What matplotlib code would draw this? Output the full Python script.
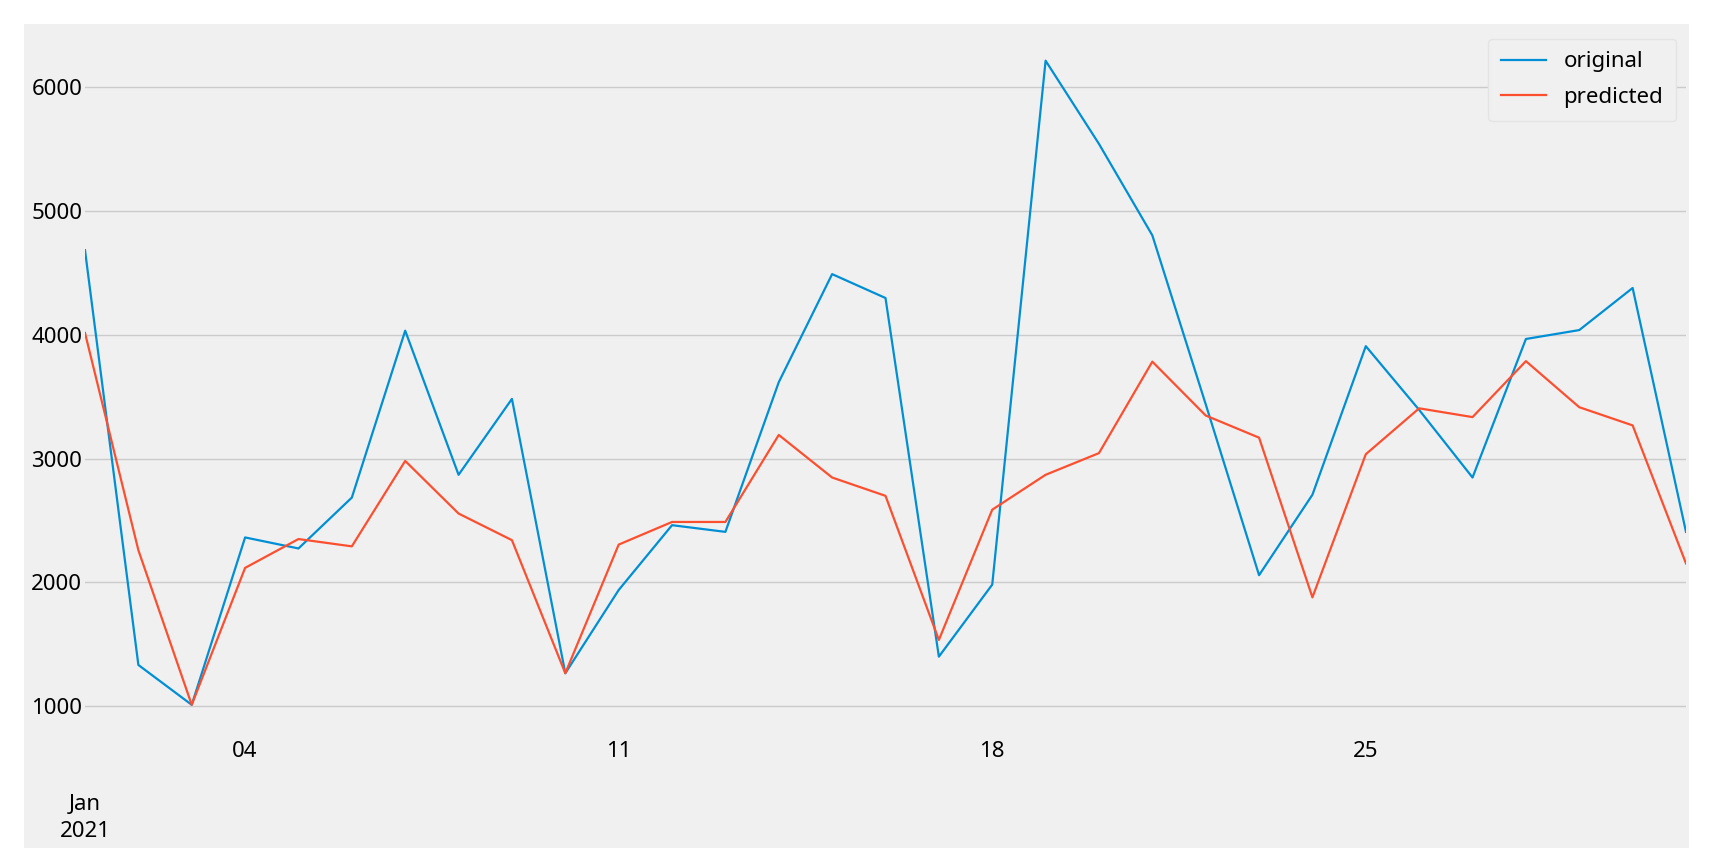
import numpy as np
import pandas as pd
import matplotlib
matplotlib.use('Agg')
import matplotlib.pyplot as plt
from matplotlib.patches import Rectangle

# daily values, Jan 2021
dates = pd.date_range('2021-01-01', '2021-01-31', freq='D')
original = [4684, 1334, 1012, 2364, 2275, 2686, 4034, 2870, 3483, 1267,
            1939, 2463, 2409, 3618, 4491, 4298, 1401, 1983, 6215, 5543,
            4804, 3440, 2059, 2709, 3909, 3394, 2848, 3967, 4039, 4379, 2409]
predicted = [4016, 2261, 1012, 2118, 2351, 2292, 2982, 2557, 2342, 1267,
             2306, 2489, 2489, 3192, 2848, 2700, 1536, 2588, 2870, 3045,
             3784, 3349, 3170, 1880, 3036, 3407, 3336, 3788, 3416, 3269, 2154]
tick_days = ['2021-01-01', '2021-01-04', '2021-01-11', '2021-01-18', '2021-01-25']
tick_labels = ['\n\nJan\n2021', '04', '11', '18', '25']

plt.rcParams['font.family'] = ['Noto Sans', 'DejaVu Sans']

W, H = 1711, 868
fig = plt.figure(figsize=(W / 100, H / 100), dpi=100, facecolor='white')
# grey panel behind axes and labels
fig.patches.append(Rectangle((24 / W, 1 - 848 / H), 1665 / W, 824 / H,
                             transform=fig.transFigure, facecolor='#f0f0f0',
                             edgecolor='none', zorder=-10))
ax = fig.add_axes([85 / W, 1 - 737 / H, (1686 - 85) / W, (737 - 28.5) / H])
ax.set_facecolor('#f0f0f0')

ax.plot(dates, original, color='#008fd5', lw=1.6, label='original')
ax.plot(dates, predicted, color='#fc4f30', lw=1.6, label='predicted')

ax.set_xlim(dates[0], dates[-1])
ax.set_ylim(752, 6475)
ax.set_yticks([1000, 2000, 3000, 4000, 5000, 6000])
ax.set_xticks(pd.to_datetime(tick_days))
ax.set_xticklabels(tick_labels, linespacing=1.35)
ax.tick_params(axis='both', length=0, labelsize=16)
ax.tick_params(axis='x', pad=3)
ax.tick_params(axis='y', pad=2)

ax.grid(axis='y', color='#cbcbcb', lw=1)
ax.set_axisbelow(True)
for s in ax.spines.values():
    s.set_visible(False)

leg = ax.legend(loc='upper right', fontsize=16, facecolor='#f0f0f0',
                edgecolor='#e4e4e4', framealpha=1, borderaxespad=0.45,
                labelspacing=0.66, borderpad=0.58)

fig.savefig('out.png', dpi=100, facecolor='white')
